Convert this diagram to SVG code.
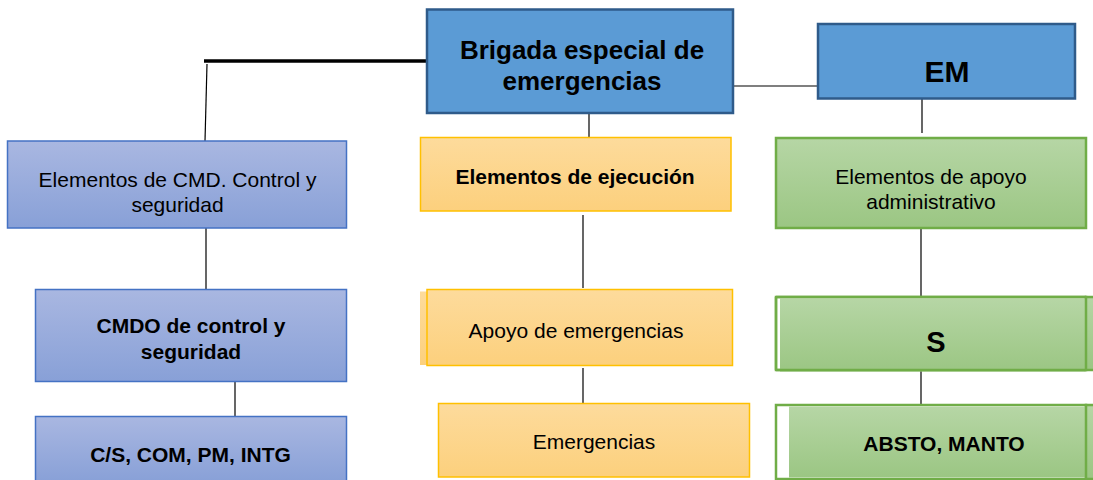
<svg xmlns="http://www.w3.org/2000/svg" width="1093" height="480" viewBox="0 0 1093 480">
<defs>
<linearGradient id="gBlue" x1="0" y1="0" x2="0" y2="1"><stop offset="0" stop-color="#A9B7E1"/><stop offset="1" stop-color="#88A0D7"/></linearGradient>
<linearGradient id="gOrange" x1="0" y1="0" x2="0" y2="1"><stop offset="0" stop-color="#FDDB9C"/><stop offset="1" stop-color="#FCD07D"/></linearGradient>
<linearGradient id="gGreen" x1="0" y1="0" x2="0" y2="1"><stop offset="0" stop-color="#B6D6A5"/><stop offset="1" stop-color="#9BC683"/></linearGradient>
</defs>
<style>
.t{font-family:"Liberation Sans",Arial,sans-serif;fill:#000;text-anchor:middle}
.b{font-weight:bold}
.top{fill:#5B9BD5;stroke:#2F5B8A;stroke-width:2.5}
.lb{fill:url(#gBlue);stroke:#4472C4;stroke-width:1.5}
.or{fill:url(#gOrange);stroke:#FFC000;stroke-width:1.5}
.gr{fill:url(#gGreen);stroke:#70AD47;stroke-width:2.5}
.ln{stroke:#000;stroke-width:1.2;fill:none}
</style>
<g id="connectors">
<line x1="204" y1="61" x2="428" y2="61" stroke="#000" stroke-width="3.5"/>
<line class="ln" x1="207" y1="64" x2="205" y2="141"/>
<line class="ln" x1="733" y1="86" x2="818" y2="86"/>
<line class="ln" x1="589" y1="113" x2="589" y2="137"/>
<line class="ln" x1="922" y1="99" x2="922" y2="133"/>
<line class="ln" x1="206" y1="228" x2="206" y2="290"/>
<line class="ln" x1="235" y1="382" x2="235" y2="416"/>
<line class="ln" x1="583" y1="215" x2="583" y2="288" stroke="#333"/>
<line class="ln" x1="583" y1="368" x2="583" y2="403" stroke="#333"/>
<line class="ln" x1="921" y1="229" x2="921" y2="297" stroke-width="2"/>
<line class="ln" x1="921" y1="370" x2="921" y2="405" stroke-width="2"/>
</g>
<g id="brigada">
<rect class="top" x="427" y="9.5" width="306" height="103.5"/>
<text class="t b" x="582" y="59" font-size="26">Brigada especial de</text>
<text class="t b" x="582" y="90" font-size="26">emergencias</text>
</g>
<g id="em">
<rect class="top" x="818" y="24" width="257" height="74.5"/>
<text class="t b" x="947" y="81.5" font-size="30">EM</text>
</g>
<g id="cmd">
<rect class="lb" x="7.5" y="141" width="339" height="87"/>
<text class="t" x="177.5" y="187" font-size="21">Elementos de CMD. Control y</text>
<text class="t" x="177.5" y="211.5" font-size="21">seguridad</text>
</g>
<g id="cmdo">
<rect class="lb" x="35.5" y="289.5" width="311" height="92"/>
<text class="t b" x="191" y="332.5" font-size="21">CMDO de control y</text>
<text class="t b" x="191" y="359" font-size="21">seguridad</text>
</g>
<g id="cs">
<rect class="lb" x="35.5" y="416.5" width="311" height="66"/>
<text class="t b" x="190.5" y="462" font-size="21">C/S, COM, PM, INTG</text>
</g>
<g id="ejecucion">
<rect class="or" x="420.5" y="137.5" width="310.5" height="73.5"/>
<text class="t b" x="575" y="184" font-size="21">Elementos de ejecución</text>
</g>
<g id="apoyo-emergencias">
<rect x="420" y="291.5" width="20" height="73.5" fill="url(#gOrange)"/>
<rect class="or" x="427" y="289.5" width="305.5" height="76"/>
<text class="t" x="576" y="337.5" font-size="21">Apoyo de emergencias</text>
</g>
<g id="emergencias">
<rect class="or" x="438.5" y="403.5" width="311" height="73.5"/>
<text class="t" x="594" y="449" font-size="21">Emergencias</text>
</g>
<g id="apoyo-admin">
<rect class="gr" x="776" y="138" width="310" height="90"/>
<text class="t" x="931" y="184" font-size="21">Elementos de apoyo</text>
<text class="t" x="931" y="208.5" font-size="21">administrativo</text>
</g>
<g id="s">
<rect x="776" y="297" width="310" height="73" fill="#fff" stroke="#70AD47" stroke-width="2.5"/>
<rect x="780" y="298.5" width="305" height="73" fill="url(#gGreen)"/>
<line x1="776" y1="297" x2="1086" y2="297" stroke="#70AD47" stroke-width="2.5"/>
<line x1="776" y1="370" x2="1086" y2="370" stroke="#70AD47" stroke-width="2.5"/>
<line x1="776" y1="297" x2="776" y2="370" stroke="#70AD47" stroke-width="2.5"/>
<rect class="gr" x="1086" y="297" width="20" height="73"/>
<text class="t b" x="936" y="351.5" font-size="29">S</text>
</g>
<g id="absto">
<rect x="776" y="405" width="310" height="74" fill="#fff" stroke="#70AD47" stroke-width="2.5"/>
<rect x="789" y="406.5" width="296" height="71" fill="url(#gGreen)"/>
<rect class="gr" x="1086" y="405" width="20" height="74"/>
<text class="t b" x="944" y="450.5" font-size="21">ABSTO, MANTO</text>
</g>
</svg>
